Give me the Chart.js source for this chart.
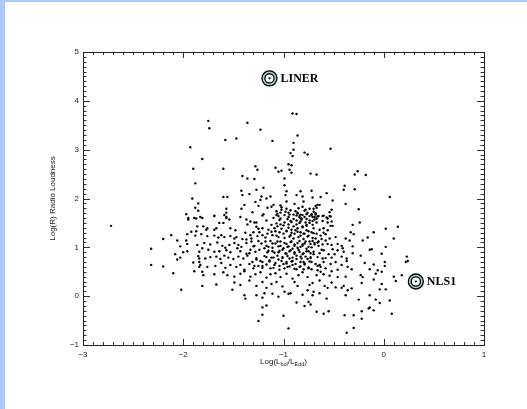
<!DOCTYPE html>
<html lang="en">
<head>
<meta charset="UTF-8" />
<title>Radio Loudness vs Eddington Ratio</title>
<script src="https://cdn.jsdelivr.net/npm/chart.js"></script>
<style>
  body { margin: 0; background: #fff; }
  .wrap { position: relative; width: 527px; height: 409px; }
  .band-top { position: absolute; left: 0; top: 0; width: 527px; height: 2px; background: #abc9fd; }
  .band-left { position: absolute; left: 0; top: 0; width: 5px; height: 409px; background: #abc9fd; }
</style>
</head>
<body>
<div class="wrap">
  <canvas id="scatter" width="527" height="409"></canvas>
  <div class="band-top"></div>
  <div class="band-left"></div>
</div>
<script>
// axis ticks
const xMajor = [-3, -2, -1, 0, 1];
const yMajor = [-1, 0, 1, 2, 3, 4, 5];

// marked classes
const classNames = ['LINER', 'NLS1'];
const classX = [-1.14, 0.32];
const classY = [4.46, 0.30];

const upperPts = [
  [-0.91,3.74],[-0.87,3.73],[-1.75,3.59],[-1.36,3.55],[-1.74,3.44],[-1.23,3.41],[-1.58,3.20],[-1.47,3.23],
  [-1.11,3.18],[-0.86,3.29],[-0.90,3.14],[-1.81,2.81],[-0.90,3.00],[-0.93,2.93],[-0.91,2.87],[-0.79,2.94],
  [-0.76,2.90],[-1.60,2.61],[-1.28,2.66],[-1.26,2.59],[-0.95,2.70],[-0.92,2.68],[-1.08,2.63],[-1.05,2.55],
  [-1.02,2.57],[-0.94,2.59],[-0.92,2.53],[-1.41,2.46],[-1.36,2.41],[-1.29,2.40],[-0.99,2.41],[-0.99,2.27],
  [-1.20,2.22],[-1.27,2.18],[-1.42,2.16],[-1.41,2.07],[-1.34,2.09],[-1.60,2.03],[-1.56,2.03],[-1.22,2.04],
  [-1.23,1.97],[-1.17,2.00],[-1.13,2.04],[-0.97,2.15],[-0.98,2.07],[-0.83,2.15],[-0.87,2.07],[-0.81,2.04],
  [-1.28,1.93],[-1.39,1.87],[-1.42,1.79],[-1.57,1.79],[-1.57,1.71],[-1.25,1.85],[-1.16,1.81],[-1.12,1.83],
  [-1.10,1.87],[-1.03,1.86],[-1.02,1.82],[-0.97,1.94],[-0.97,1.79],[-0.89,1.89],[-0.81,1.83],[-0.78,1.77],
  [-0.80,1.94],[-1.31,1.72],[-1.20,1.68],[-1.07,1.74],[-1.07,1.66],[-1.03,1.71],[-0.95,1.71],[-0.94,1.67],
  [-0.86,1.71],[-0.84,1.64],[-0.83,1.67],[-0.82,1.59],[-0.76,1.71],[-1.69,1.64],[-1.59,1.66],[-1.57,1.60],
  [-1.43,1.62],[-1.81,1.60]
];
const upperRightPts = [
  [-0.53,3.02],[-0.73,2.51],[-0.67,2.49],[-0.26,2.56],[-0.29,2.49],[-0.18,2.48],[-0.39,2.26],[-0.40,2.18],
  [-0.29,2.19],[-0.72,2.16],[-0.57,2.11],[0.06,2.03],[-0.63,2.03],[-0.71,2.02],[-0.51,1.96],[-0.38,1.89],
  [-0.25,1.78],[-0.66,1.87],[-0.64,1.87],[-0.68,1.85],[-0.70,1.79],[-0.67,1.81],[-0.52,1.77],[-0.54,1.72],
  [-0.72,1.68],[-0.68,1.67],[-0.66,1.63],[-0.71,1.62],[-0.61,1.64],[-0.53,1.63],[-0.56,1.59],[-0.67,1.59]
];
const leftPts = [
  [-1.93,3.05],[-1.90,2.61],[-1.88,2.31],[-1.91,2.00],[-1.85,1.90],[-1.88,1.81],[-1.85,1.75],[-1.97,1.68],
  [-1.95,1.60],[-1.89,1.60],[-1.87,1.59],[-1.95,1.57],[-1.83,1.62],[-2.72,1.44],[-1.86,1.43],[-1.92,1.32],
  [-1.87,1.33],[-1.96,1.27],[-1.88,1.24],[-2.12,1.25],[-2.20,1.17],[-2.06,1.14],[-1.97,1.14],[-2.03,1.02],
  [-1.96,1.07],[-1.86,1.05],[-2.32,0.97],[-1.96,0.92],[-2.00,0.90],[-2.08,0.86],[-1.84,0.91],[-1.85,0.82],
  [-2.03,0.79],[-2.06,0.75],[-1.84,0.77],[-1.90,0.69],[-1.84,0.70],[-2.32,0.64],[-2.20,0.61],[-1.84,0.60],
  [-1.89,0.51],[-2.10,0.47],[-2.02,0.13]
];
const corePts = [
  [-1.69,1.65],[-1.57,1.62],[-1.54,1.57],[-1.37,1.57],[-1.33,1.53],[-1.29,1.51],[-1.27,1.51],[-1.21,1.65],
  [-1.17,1.55],[-1.05,1.64],[-1.03,1.59],[-0.93,1.54],[-0.90,1.58],[-0.87,1.65],[-0.84,1.61],[-0.82,1.57],
  [-0.79,1.62],[-0.77,1.58],[-0.74,1.64],
  [-1.80,1.43],[-1.77,1.36],[-1.76,1.39],[-1.69,1.36],[-1.67,1.39],[-1.64,1.50],[-1.60,1.50],[-1.53,1.39],
  [-1.48,1.35],[-1.36,1.47],[-1.27,1.42],[-1.21,1.39],[-1.09,1.39],[-1.06,1.43],[-1.03,1.47],[-0.99,1.51],
  [-0.95,1.40],[-0.92,1.36],[-0.87,1.47],[-0.84,1.50],[-0.81,1.43],[-0.77,1.46],[-0.74,1.50],
  [-1.82,1.27],[-1.76,1.23],[-1.69,1.24],[-1.65,1.20],[-1.62,1.25],[-1.59,1.21],[-1.53,1.23],[-1.49,1.18],
  [-1.47,1.21],[-1.41,1.17],[-1.37,1.16],[-1.33,1.25],[-1.30,1.31],[-1.26,1.23],[-1.24,1.31],[-1.21,1.25],
  [-1.16,1.28],[-1.12,1.32],[-1.07,1.24],[-1.04,1.31],[-1.00,1.28],[-0.97,1.34],[-0.93,1.25],[-0.89,1.28],
  [-0.86,1.32],[-0.83,1.24],[-0.80,1.28],[-0.77,1.35],[-0.75,1.24],
  [-1.79,1.09],[-1.73,1.06],[-1.66,1.10],[-1.61,1.03],[-1.58,0.99],[-1.54,1.05],[-1.49,1.09],[-1.45,1.05],
  [-1.42,1.01],[-1.37,1.09],[-1.32,1.12],[-1.29,1.03],[-1.25,1.13],[-1.22,1.08],[-1.18,1.12],[-1.15,1.01],
  [-1.11,1.08],[-1.06,1.12],[-1.03,1.03],[-0.99,1.09],[-0.96,1.01],[-0.92,1.12],[-0.89,1.03],[-0.86,1.09],
  [-0.83,1.01],[-0.81,1.06],[-0.78,1.12],[-0.75,1.01],[-0.73,1.07],
  [-1.81,0.98],[-1.75,0.95],[-1.69,0.91],[-1.64,0.92],[-1.57,0.94],[-1.53,0.90],[-1.46,0.98],[-1.43,0.92],
  [-1.37,0.87],[-1.33,0.95],[-1.28,0.91],[-1.24,0.95],[-1.19,0.98],[-1.16,0.90],[-1.11,0.92],[-1.05,0.90],
  [-1.01,0.95],[-0.97,0.87],[-0.93,0.94],[-0.89,0.90],[-0.85,0.95],[-0.81,0.86],[-0.77,0.92],[-0.73,0.88],
  [-1.78,0.77],[-1.73,0.80],[-1.67,0.81],[-1.63,0.76],[-1.59,0.83],[-1.55,0.79],[-1.50,0.76],[-1.45,0.81],
  [-1.40,0.77],[-1.36,0.83],[-1.31,0.70],[-1.27,0.75],[-1.23,0.72],[-1.21,0.70],[-1.17,0.80],[-1.14,0.73],
  [-1.10,0.79],[-1.05,0.75],[-1.01,0.80],[-0.97,0.70],[-0.94,0.77],[-0.91,0.72],[-0.87,0.76],[-0.83,0.81],
  [-0.80,0.70],[-0.76,0.76],[-0.73,0.80],
  [-1.83,0.64],[-1.76,0.60],[-1.68,0.62],[-1.62,0.68],[-1.58,0.58],[-1.53,0.64],[-1.47,0.60],[-1.43,0.64],
  [-1.39,0.54],[-1.34,0.66],[-1.30,0.57],[-1.25,0.62],[-1.21,0.58],[-1.17,0.65],[-1.13,0.57],[-1.09,0.64],
  [-1.04,0.54],[-1.00,0.66],[-0.96,0.60],[-0.91,0.64],[-0.87,0.55],[-0.83,0.61],[-0.79,0.65],[-0.75,0.57],
  [-1.81,0.50],[-1.80,0.43],[-1.69,0.45],[-1.60,0.49],[-1.56,0.43],[-1.49,0.40],[-1.43,0.46],[-1.39,0.51],
  [-1.33,0.40],[-1.28,0.45],[-1.23,0.49],[-1.17,0.38],[-1.13,0.45],[-1.08,0.47],[-1.03,0.39],[-0.97,0.46],
  [-0.91,0.36],[-0.85,0.43],[-0.81,0.49],[-0.76,0.39],
  [-1.81,0.21],[-1.67,0.24],[-1.51,0.13],[-1.49,0.28],[-1.43,0.23],[-1.34,0.32],[-1.27,0.21],[-1.21,0.29],
  [-1.17,0.17],[-1.12,0.25],[-1.07,0.29],[-1.01,0.20],[-0.99,0.09],[-0.95,0.05],[-0.89,0.29],[-0.86,0.21],
  [-0.81,0.03],[-0.76,0.12],[-0.74,0.23],
  [-1.39,0.02],[-1.38,-0.05],[-1.27,0.02],[-1.21,-0.03],[-1.19,0.06],[-1.11,0.05],[-1.05,-0.01],[-0.93,0.06],
  [-0.87,-0.13],[-0.79,-0.20],[-0.75,-0.12],
  [-1.21,-0.23],[-1.17,-0.19],[-1.00,-0.40],[-1.21,-0.38],[-1.25,-0.51],[-0.95,-0.66]
];
const rightPts = [
  [-0.69,1.62],[-0.65,1.64],[-0.60,1.65],[-0.57,1.61],[-0.54,1.64],[-0.71,1.54],[-0.67,1.51],[-0.61,1.54],
  [-0.56,1.51],[-0.52,1.53],[-0.53,1.44],[-0.51,1.44],[-0.31,1.46],[-0.24,1.51],[0.02,1.38],[0.14,1.42],
  [-0.10,1.31],[-0.33,1.31],[-0.30,1.27],[-0.70,1.39],[-0.64,1.36],[-0.60,1.39],[-0.56,1.35],[-0.72,1.31],
  [-0.67,1.28],[-0.63,1.24],[-0.58,1.27],[-0.68,1.18],[-0.71,1.13],[-0.66,1.10],[-0.62,1.17],[-0.58,1.14],
  [-0.54,1.18],[-0.48,1.21],[-0.38,1.18],[-0.34,1.14],[-0.21,1.14],[-0.16,1.20],[0.10,1.18],[-0.69,1.06],
  [-0.65,1.03],[-0.61,1.06],[-0.56,1.07],[-0.52,1.05],[-0.46,1.07],[-0.42,1.03],[-0.51,0.96],[-0.46,0.94],
  [-0.41,0.98],[-0.31,1.02],[-0.12,0.96],[0.02,1.01],[-0.70,0.91],[-0.64,0.88],[-0.60,0.94],[-0.55,0.86],
  [-0.49,0.86],[-0.40,0.91],[-0.31,0.88],[-0.14,0.95],[-0.02,0.87],[-0.66,0.80],[-0.61,0.77],[-0.52,0.79],
  [-0.42,0.81],[-0.37,0.77],[-0.23,0.83],[-0.72,0.70],[-0.68,0.66],[-0.64,0.64],[-0.60,0.70],[-0.53,0.66],
  [-0.48,0.70],[-0.42,0.64],[-0.37,0.72],[-0.19,0.68],[-0.10,0.65],[0.01,0.70],[0.01,0.62],[0.23,0.81],
  [0.24,0.72],[0.22,0.70],[-0.72,0.55],[-0.66,0.53],[-0.63,0.60],[-0.58,0.57],[-0.52,0.51],[-0.46,0.54],
  [-0.36,0.60],[-0.32,0.55],[-0.14,0.55],[-0.06,0.53],[-0.02,0.50],[-0.67,0.43],[-0.60,0.45],[-0.54,0.42],
  [-0.46,0.39],[-0.38,0.40],[-0.23,0.43],[-0.21,0.39],[-0.08,0.46],[0.10,0.40],[0.18,0.43],[0.12,0.31],
  [-0.71,0.27],[-0.64,0.32],[-0.59,0.21],[-0.52,0.28],[-0.48,0.18],[-0.40,0.21],[-0.32,0.16],[-0.22,0.27],
  [-0.10,0.34],[-0.02,0.25],[-0.70,0.09],[-0.64,0.06],[-0.56,0.17],[-0.42,0.17],[-0.36,0.12],[-0.14,0.02],
  [-0.04,0.14],[0.02,0.14],[-0.71,0.02],[-0.57,-0.05],[-0.38,0.02],[-0.25,-0.07],[-0.73,-0.17],[-0.08,-0.07],
  [-0.04,-0.14],[0.06,-0.09],[-0.14,-0.23],[-0.15,-0.25],[-0.67,-0.32],[-0.60,-0.36],[-0.55,-0.31],[-0.39,-0.39],
  [-0.30,-0.39],[-0.22,-0.31],[-0.10,-0.29],[0.08,-0.36],[-0.22,-0.46],[-0.30,-0.65],[-0.37,-0.75]
];
const densePts = [
  [-1.02,1.77],[-0.98,1.73],[-0.93,1.76],[-0.88,1.74],[-0.85,1.80],[-0.79,1.75],[-0.74,1.79],[-0.70,1.73],
  [-1.06,1.69],[-0.99,1.66],[-0.95,1.62],[-0.90,1.67],[-0.86,1.69],[-0.81,1.66],[-0.77,1.68],[-0.72,1.66],
  [-0.68,1.70],[-1.10,1.60],[-1.04,1.56],[-0.96,1.58],[-0.92,1.52],[-0.87,1.55],[-0.83,1.53],[-0.78,1.51],
  [-0.74,1.55],[-0.69,1.57],[-1.12,1.46],[-1.07,1.49],[-1.00,1.45],[-0.95,1.47],[-0.90,1.43],[-0.86,1.39],
  [-0.81,1.41],[-0.77,1.44],[-0.71,1.46],[-1.15,1.36],[-1.08,1.33],[-1.02,1.38],[-0.97,1.33],[-0.92,1.30],
  [-0.88,1.35],[-0.83,1.31],[-0.79,1.28],[-0.75,1.33],[-0.70,1.29],[-1.18,1.20],[-1.11,1.25],[-1.05,1.21],
  [-0.99,1.19],[-0.94,1.22],[-0.90,1.18],[-0.85,1.21],[-0.80,1.17],[-0.76,1.22],[-0.71,1.19],[-1.13,1.13],
  [-1.08,1.08],[-1.03,1.12],[-0.97,1.07],[-0.93,1.11],[-0.89,1.06],[-0.84,1.13],[-0.79,1.08],[-0.74,1.12],
  [-0.69,1.09],[-1.17,1.03],[-1.11,0.99],[-1.05,1.02],[-1.00,0.98],[-0.95,1.02],[-0.91,0.97],[-0.86,0.99],
  [-0.81,1.03],[-0.77,0.97],[-0.72,1.00],[-1.15,0.93],[-1.09,0.89],[-1.04,0.93],[-0.98,0.88],[-0.94,0.92],
  [-0.89,0.87],[-0.84,0.91],[-0.80,0.88],[-0.75,0.92],[-0.70,0.86],[-1.19,0.82],[-1.12,0.79],[-1.06,0.83],
  [-1.01,0.78],[-0.96,0.82],[-0.91,0.79],[-0.87,0.83],[-0.82,0.77],[-0.78,0.81],[-0.73,0.78],[-1.14,0.71],
  [-1.08,0.68],[-1.02,0.72],[-0.97,0.67],[-0.92,0.71],[-0.88,0.66],[-0.83,0.70],[-0.79,0.67],[-0.74,0.71],
  [-1.21,0.62],[-1.10,0.58],[-1.04,0.62],[-0.99,0.57],[-0.94,0.61],[-0.89,0.56],[-0.84,0.60],[-0.80,0.55],
  [-0.75,0.59],[-1.30,1.02],[-1.34,0.88],[-1.27,0.78],[-1.32,1.18],[-1.25,1.38],[-1.38,1.30],[-1.29,0.62],
  [-0.65,1.12],[-0.62,0.95],[-0.58,0.78],[-0.66,0.62],[-0.60,1.30],[-0.63,0.50]
];

const allPts = [].concat(upperPts, upperRightPts, leftPts, corePts, rightPts, densePts)
  .map(p => ({ x: p[0], y: p[1] }));

const INK = '#222';
const SANS = '"Liberation Sans", Arial, sans-serif';

const idlFrame = {
  id: 'idlFrame',
  afterDraw(chart) {
    const { ctx, chartArea: a, scales: { x, y } } = chart;
    const L = Math.round(a.left), R = Math.round(a.right);
    const T = Math.round(a.top), B = Math.round(a.bottom);
    ctx.save();
    ctx.fillStyle = '#333';

    // inward ticks on all four sides (major every 1, minor every 0.1), drawn as 1px bars
    for (let i = 0; i <= 40; i++) {
      const px = Math.round(x.getPixelForValue(xMajor[0] + i / 10));
      const len = i % 10 === 0 ? 6 : 3;
      ctx.fillRect(px, B - len, 1, len);
      ctx.fillRect(px, T, 1, len);
    }
    for (let i = 0; i <= 60; i++) {
      const py = Math.round(y.getPixelForValue(yMajor[0] + i / 10));
      const len = i % 10 === 0 ? 7 : 3.5;
      ctx.fillRect(L, py, len, 1);
      ctx.fillRect(R - len, py, len, 1);
    }

    // frame
    ctx.fillStyle = '#222';
    ctx.fillRect(L, T, R - L + 1, 1);
    ctx.fillRect(L, B, R - L + 1, 1);
    ctx.fillRect(L, T, 1, B - T + 1);
    ctx.fillRect(R, T, 1, B - T + 1);

    // class markers
    classNames.forEach((name, i) => {
      const cx = x.getPixelForValue(classX[i]);
      const cy = y.getPixelForValue(classY[i]);
      ctx.fillStyle = '#a7cbd6';
      ctx.beginPath(); ctx.arc(cx, cy, 7.5, 0, Math.PI * 2); ctx.fill();
      ctx.strokeStyle = '#000'; ctx.lineWidth = 1.3;
      ctx.stroke();
      ctx.fillStyle = '#fff';
      ctx.beginPath(); ctx.arc(cx, cy, 4.6, 0, Math.PI * 2); ctx.fill();
      ctx.stroke();
      ctx.fillStyle = '#000';
      ctx.beginPath(); ctx.arc(cx, cy, 1.1, 0, Math.PI * 2); ctx.fill();
      ctx.font = 'bold 12px "Liberation Serif", "Times New Roman", serif';
      ctx.textBaseline = 'middle';
      ctx.textAlign = 'left';
      ctx.fillText(name, cx + 11, cy + 0.5);
    });

    // x title with subscripts
    const parts = [['Log(L', 0], ['bol', 1], ['/L', 0], ['Edd', 1], [')', 0]];
    const fontFor = s => s ? '5.5px ' + SANS : '8px ' + SANS;
    let w = 0;
    parts.forEach(p => { ctx.font = fontFor(p[1]); w += ctx.measureText(p[0]).width; });
    let tx = (a.left + a.right) / 2 - w / 2;
    const ty = a.bottom + 19;
    ctx.fillStyle = INK;
    ctx.textAlign = 'left';
    ctx.textBaseline = 'alphabetic';
    parts.forEach(p => {
      ctx.font = fontFor(p[1]);
      ctx.fillText(p[0], tx, ty + (p[1] ? 2 : 0));
      tx += ctx.measureText(p[0]).width;
    });
    ctx.restore();
  }
};

new Chart(document.getElementById('scatter'), {
  type: 'scatter',
  data: {
    datasets: [{
      label: 'sources',
      data: allPts,
      pointRadius: 1.2,
      pointHoverRadius: 1.2,
      pointBackgroundColor: '#000',
      pointBorderWidth: 0
    }]
  },
  options: {
    responsive: false,
    animation: false,
    events: [],
    layout: { padding: { left: 45, right: 43, top: 52, bottom: 34 } },
    plugins: { legend: { display: false }, tooltip: { enabled: false } },
    scales: {
      x: {
        type: 'linear', min: -3, max: 1,
        afterBuildTicks: s => { s.ticks = xMajor.map(v => ({ value: v })); },
        afterFit: s => { s.height = 30; },
        grid: { display: false, drawTicks: false },
        border: { display: false },
        ticks: {
          padding: 5, color: INK, font: { family: SANS, size: 8 },
          callback: v => String(v).replace('-', '\u2212')
        }
      },
      y: {
        type: 'linear', min: -1, max: 5,
        afterBuildTicks: s => { s.ticks = yMajor.map(v => ({ value: v })); },
        afterFit: s => { s.width = 38; },
        grid: { display: false, drawTicks: false },
        border: { display: false },
        ticks: {
          padding: 4, color: INK, font: { family: SANS, size: 8 },
          callback: v => String(v).replace('-', '\u2212')
        },
        title: {
          display: true, text: 'Log(R) Radio Loudness', color: INK,
          font: { family: SANS, size: 8 }, padding: { top: 3, bottom: 0 }
        }
      }
    }
  },
  plugins: [idlFrame]
});
</script>
</body>
</html>
